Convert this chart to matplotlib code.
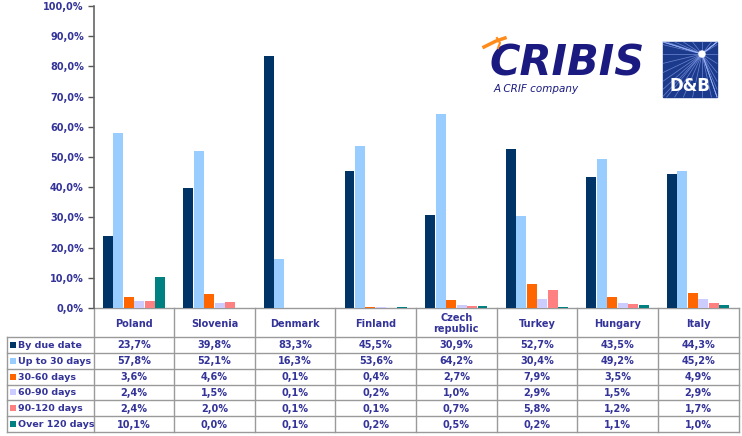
import matplotlib.pyplot as plt
import numpy as np
from matplotlib.patches import Rectangle, Circle

plt.rcParams['font.family'] = ['DejaVu Sans']

# Data
countries = ['Poland', 'Slovenia', 'Denmark', 'Finland', 'Czech\nrepublic',
             'Turkey', 'Hungary', 'Italy']
series_names = ['By due date', 'Up to 30 days', '30-60 days', '60-90 days',
                '90-120 days', 'Over 120 days']
by_due_date = [23.7, 39.8, 83.3, 45.5, 30.9, 52.7, 43.5, 44.3]
up_to_30 = [57.8, 52.1, 16.3, 53.6, 64.2, 30.4, 49.2, 45.2]
d30_60 = [3.6, 4.6, 0.1, 0.4, 2.7, 7.9, 3.5, 4.9]
d60_90 = [2.4, 1.5, 0.1, 0.2, 1.0, 2.9, 1.5, 2.9]
d90_120 = [2.4, 2.0, 0.1, 0.1, 0.7, 5.8, 1.2, 1.7]
over_120 = [10.1, 0.0, 0.1, 0.2, 0.5, 0.2, 1.1, 1.0]
yticks = np.arange(0, 101, 10)

series = [by_due_date, up_to_30, d30_60, d60_90, d90_120, over_120]
colors = ['#003366', '#99CCFF', '#FF6600', '#CCCCFF', '#FF8080', '#008080']
txt_col = '#333399'
line_col = '#9a9a9a'

W, H = 742, 436
fig = plt.figure(figsize=(W / 100, H / 100), dpi=100)

# overlay axes in pixel coordinates for the table and logos
tax = fig.add_axes([0, 0, 1, 1])
tax.set_xlim(0, W)
tax.set_ylim(H, 0)
tax.axis('off')

# chart area
x0, x1 = 93.5, 738.5
ytop, ybot = 6, 308
ax = fig.add_axes([x0 / W, (H - ybot) / H, (x1 - x0) / W, (ybot - ytop) / H])
ax.patch.set_alpha(0)

n = len(countries)
bw = 0.13
xs = np.arange(n)
for i, (vals, c) in enumerate(zip(series, colors)):
    ax.bar(xs + (i - 2.5) * bw, vals, bw * 0.95, color=c, linewidth=0)

ax.set_xlim(-0.5, n - 0.5)
ax.set_ylim(0, 100)
ax.set_yticks(yticks)
ax.set_yticklabels([('%.1f%%' % v).replace('.', ',') for v in yticks],
                   color=txt_col, fontsize=7, fontweight='bold')
ax.tick_params(axis='y', length=4, width=1, color='#555555', pad=3)
ax.set_xticks([])
for s in ['top', 'right', 'bottom']:
    ax.spines[s].set_visible(False)
ax.spines['left'].set_color('#666666')
ax.spines['left'].set_linewidth(1.2)

# table
cw = (x1 - x0) / n
head_b = 337
rh = (432 - head_b) / 6
tx_left = 7

for r in range(7):
    y = head_b + r * rh
    tax.plot([tx_left, x1], [y, y], color=line_col, lw=1)
tax.plot([x0, x1], [ybot, ybot], color=line_col, lw=1)
for c in range(n + 1):
    tax.plot([x0 + c * cw] * 2, [ybot, 432], color=line_col, lw=1)
tax.plot([tx_left, tx_left], [head_b, 432], color=line_col, lw=1)

for c, name in enumerate(countries):
    tax.text(x0 + (c + 0.5) * cw, (ybot + head_b) / 2 + 1, name, ha='center',
             va='center', fontsize=7, fontweight='bold', color=txt_col,
             linespacing=1.1)

for r, (sname, vals, col) in enumerate(zip(series_names, series, colors)):
    yc = head_b + (r + 0.5) * rh
    tax.add_patch(Rectangle((10, yc - 3), 5.5, 6, color=col, lw=0))
    tax.text(18, yc + 0.5, sname, ha='left', va='center', fontsize=6.8,
             fontweight='bold', color=txt_col)
    for c, v in enumerate(vals):
        tax.text(x0 + (c + 0.5) * cw, yc + 0.5, ('%.1f%%' % v).replace('.', ','),
                 ha='center', va='center', fontsize=7, fontweight='bold',
                 color=txt_col)

# logos
tax.add_patch(Rectangle((462, 22), 278, 84, color='white', zorder=5))
tax.text(567, 64, 'CRIBIS', ha='center', va='center', fontsize=30,
         fontweight='heavy', fontstyle='italic', color='#1a1a80', zorder=6)
tax.text(494, 89, 'A CRIF company', ha='left', va='center', fontsize=7.5,
         fontstyle='italic', color='#1a1a80', zorder=6)
tax.plot([484, 496, 505], [47, 41, 38], color='#FF8C1A', lw=2.5, zorder=6)
tax.plot([497, 500, 498], [38, 43, 48], color='#FF8C1A', lw=1.5, zorder=6)

# D&B box
tax.add_patch(Rectangle((663, 42), 54, 55, color='#1c3a8c', zorder=6))
cx, cy = 702, 54
for a in np.linspace(0, 2 * np.pi, 40, endpoint=False):
    ex = np.clip(cx + 60 * np.cos(a), 663, 717)
    ey = np.clip(cy + 60 * np.sin(a), 42, 97)
    tax.plot([cx, ex], [cy, ey], color='#9fb8ff', lw=0.5, alpha=0.6, zorder=7)
tax.add_patch(Circle((cx, cy), 3, color='white', zorder=8))
tax.text(690, 86, 'D&B', ha='center', va='center', fontsize=12,
         fontweight='bold', color='white', zorder=8)

fig.savefig('out.png', dpi=100)
